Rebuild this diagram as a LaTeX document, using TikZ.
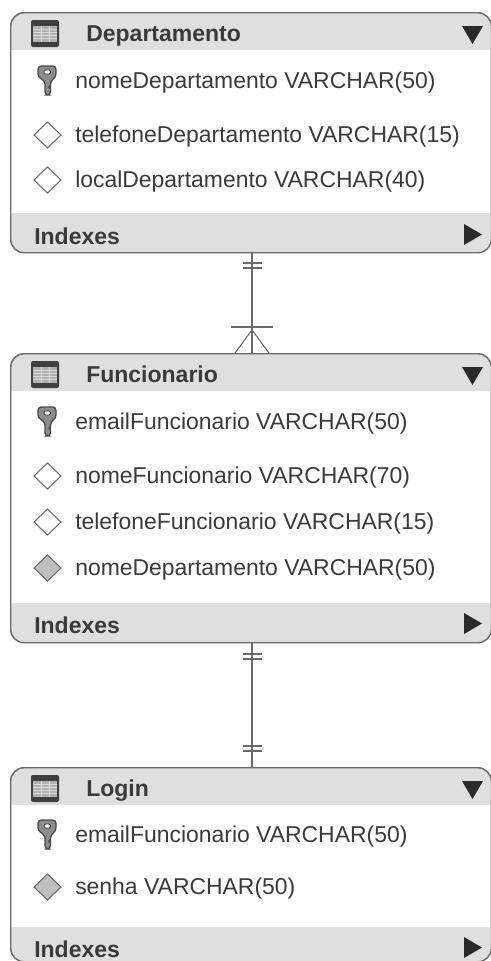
\documentclass[tikz,border=0pt]{standalone}
\usepackage{fontspec}
\setmainfont{Liberation Sans}
\definecolor{band}{HTML}{DFDFDF}
\definecolor{edge}{HTML}{6A6A6A}
\definecolor{ink}{HTML}{3A3A3A}
\definecolor{dark}{HTML}{2A2A2A}
\tikzset{
  x=0.75pt,y=-0.75pt,
  frame/.style={draw=edge,line width=1.1pt,rounded corners=10pt,inner sep=0pt,anchor=north west},
  rowtext/.style={anchor=base west,inner sep=0pt,text=ink,font=\fontsize{17.2}{19}\selectfont},
  headtext/.style={anchor=base west,inner sep=0pt,text=ink,font=\bfseries\fontsize{17.25}{19}\selectfont},
  conn/.style={draw=edge,line width=0.8pt},
  dia/.style={draw=edge,line width=0.8pt},
  tri/.style={fill=dark,draw=none},
}
% table: name, top, bottom, header bottom, band top
\newcommand{\tbl}[6]{%
  \begin{scope}
    \clip[rounded corners=10pt] (10,#2) rectangle (490.5,#3);
    \fill[band] (10,#2) rectangle (490.5,#4);
    \fill[band] (10,#5) rectangle (490.5,#3);
  \end{scope}
  \node[frame,minimum width=360.4pt,minimum height={(#3-#2)*0.75pt}] (#1) at (10,#2) {};
  % table icon
  \fill[dark!90,rounded corners=1.5pt] (31,{#2+8}) rectangle (59,{#2+35});
  \fill[black!30] (33,{#2+14}) rectangle (57,{#2+30});
  \foreach \xx in {41,49}{\draw[white!85!black,line width=0.5pt] (\xx,{#2+14}) -- (\xx,{#2+30});}
  \foreach \yy in {17,20,23,26}{\draw[white!85!black,line width=0.4pt] (33,{#2+\yy}) -- (57,{#2+\yy});}
  \node[headtext] (#1title) at (86,{#2+29.5}) {#6};
  \fill[tri] (462,{#2+14}) -- (483,{#2+14}) -- (472.5,{#2+32}) -- cycle;
}
\newcommand{\idx}[2]{%
  \node[headtext] (#1) at (34,{#2+8}) {Indexes};
  \fill[tri] (464,{#2-12}) -- (464,{#2+9}) -- (482,{#2-1.5}) -- cycle;
}
\newcommand{\keyrow}[3]{%
  \draw[draw=edge!70!black,fill=black!45,line width=1pt,rounded corners=2.5pt]
    (38,{#2-15}) -- (56,{#2-15}) -- (56,{#2-4}) -- (50.5,{#2}) -- (50.5,{#2+14}) -- (45,{#2+14}) -- (45,{#2}) -- (38,{#2-4}) -- cycle;
  \draw[draw=dark,fill=white,line width=0.5pt,rounded corners=1pt] (44,{#2-11}) rectangle (50.5,{#2-7});
  \draw[edge!70!black,line width=0.7pt] (50.5,{#2+4}) -- (48.5,{#2+6}) -- (50.5,{#2+8});
  \node[rowtext] (#1) at (75,{#2+7.5}) {#3};
}
\newcommand{\diarow}[4]{%
  \draw[dia,fill=#3] (34,#2) -- (47.5,{#2-13}) -- (61,#2) -- (47.5,{#2+13}) -- cycle;
  \node[rowtext] (#1) at (75,{#2+7.5}) {#4};
}
\begin{document}
\begin{tikzpicture}
\useasboundingbox (0,0) rectangle (490,961);
\fill[white] (0,0) rectangle (490,961);

\tbl{dep}{12}{252}{50}{213}{Departamento}
\keyrow{d1}{81}{nomeDepartamento VARCHAR(50)}
\diarow{d2}{135}{white}{telefoneDepartamento VARCHAR(15)}
\diarow{d3}{180}{white}{localDepartamento VARCHAR(40)}
\idx{dx}{236}

\tbl{fun}{353}{642}{391}{603}{Funcionario}
\keyrow{f1}{422}{emailFuncionario VARCHAR(50)}
\diarow{f2}{476}{white}{nomeFuncionario VARCHAR(70)}
\diarow{f3}{522}{white}{telefoneFuncionario VARCHAR(15)}
\diarow{f4}{568}{black!25}{nomeDepartamento VARCHAR(50)}
\idx{fx}{625}

\tbl{log}{767}{961}{805}{927}{Login}
\keyrow{l1}{835}{emailFuncionario VARCHAR(50)}
\diarow{l2}{887}{black!25}{senha VARCHAR(50)}
\idx{lx}{949}

\coordinate (cx) at (252,0);
\draw[conn] (dep.south -| cx) -- (fun.north -| cx);
\draw[conn] (fun.south -| cx) -- (log.north -| cx);
% one mark
\draw[conn] (243,263) -- (262,263);
\draw[conn] (243,268) -- (262,268);
% many mark
\draw[conn] (231,327) -- (273,327);
\draw[conn] (235,353) -- (252,330) -- (269,353);
% one marks
\draw[conn] (243,654) -- (262,654);
\draw[conn] (243,659) -- (262,659);
\draw[conn] (243,746) -- (262,746);
\draw[conn] (243,751) -- (262,751);
\end{tikzpicture}
\end{document}
